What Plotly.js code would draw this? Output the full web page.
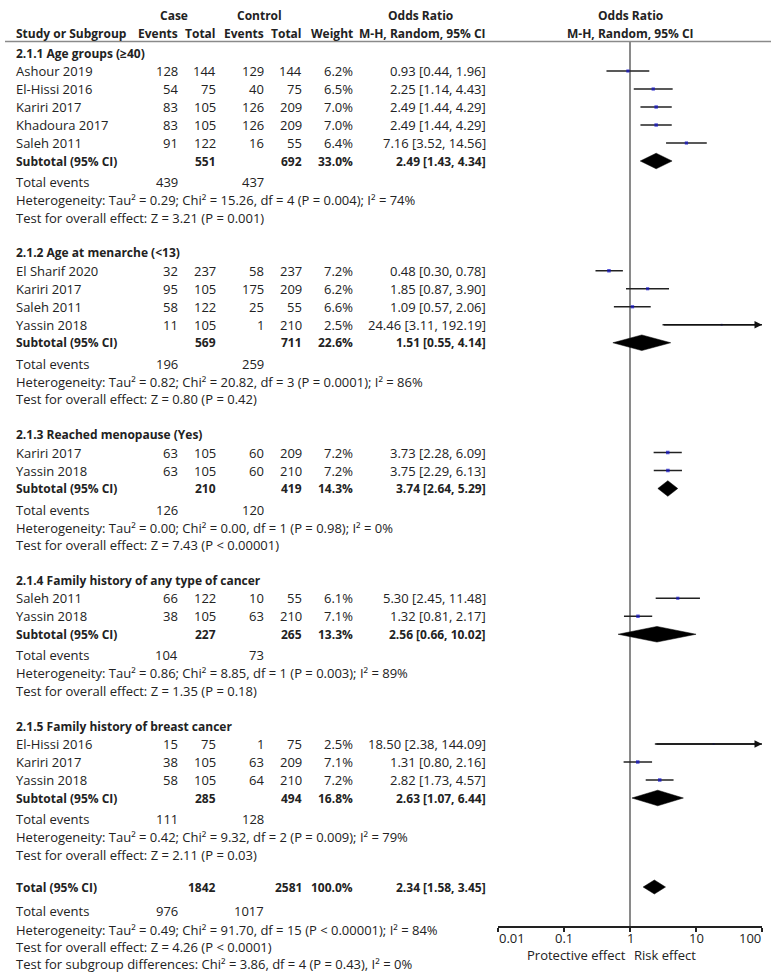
<!DOCTYPE html>
<html><head><meta charset="utf-8">
<script src="https://cdn.plot.ly/plotly-3.0.1.min.js"></script>
<style>body{margin:0;background:#fff}</style>
</head><body><div id="chart" style="width:771px;height:977px"></div>
<script>
// ---------------- DATA ----------------
const groupTitles = ["2.1.1 Age groups (\u226540)", "2.1.2 Age at menarche (<13)", "2.1.3 Reached menopause (Yes)",
  "2.1.4 Family history of any type of cancer", "2.1.5 Family history of breast cancer"];
const studyGroup  = [0,0,0,0,0, 1,1,1,1, 2,2, 3,3, 4,4,4];
const studyNames  = ["Ashour 2019","El-Hissi 2016","Kariri 2017","Khadoura 2017","Saleh 2011",
  "El Sharif 2020","Kariri 2017","Saleh 2011","Yassin 2018",
  "Kariri 2017","Yassin 2018",
  "Saleh 2011","Yassin 2018",
  "El-Hissi 2016","Kariri 2017","Yassin 2018"];
const caseEvents  = [128,54,83,83,91, 32,95,58,11, 63,63, 66,38, 15,38,58];
const caseTotal   = [144,75,105,105,122, 237,105,122,105, 105,105, 122,105, 75,105,105];
const ctrlEvents  = [129,40,126,126,16, 58,175,25,1, 60,60, 10,63, 1,63,64];
const ctrlTotal   = [144,75,209,209,55, 237,209,55,210, 209,210, 55,210, 75,209,210];
const studyWeight = [6.2,6.5,7.0,7.0,6.4, 7.2,6.2,6.6,2.5, 7.2,7.2, 6.1,7.1, 2.5,7.1,7.2];
const studyOR     = [0.93,2.25,2.49,2.49,7.16, 0.48,1.85,1.09,24.46, 3.73,3.75, 5.30,1.32, 18.50,1.31,2.82];
const studyLo     = [0.44,1.14,1.44,1.44,3.52, 0.30,0.87,0.57,3.11, 2.28,2.29, 2.45,0.81, 2.38,0.80,1.73];
const studyHi     = [1.96,4.43,4.29,4.29,14.56, 0.78,3.90,2.06,192.19, 6.09,6.13, 11.48,2.17, 144.09,2.16,4.57];

const subCaseTotal  = [551,569,210,227,285];
const subCtrlTotal  = [692,711,419,265,494];
const subWeight     = [33.0,22.6,14.3,13.3,16.8];
const subOR         = [2.49,1.51,3.74,2.56,2.63];
const subLo         = [1.43,0.55,2.64,0.66,1.07];
const subHi         = [4.34,4.14,5.29,10.02,6.44];
const subCaseEvents = [439,196,126,104,111];
const subCtrlEvents = [437,259,120,73,128];
const hetTau2 = ["0.29","0.82","0.00","0.86","0.42"];
const hetChi2 = ["15.26","20.82","0.00","8.85","9.32"];
const hetDf   = [4,3,1,1,2];
const hetP    = ["= 0.004","= 0.0001","= 0.98","= 0.003","= 0.009"];
const hetI2   = [74,86,0,89,79];
const testZ   = ["3.21","0.80","7.43","1.35","2.11"];
const testP   = ["= 0.001","= 0.42","< 0.00001","= 0.18","= 0.03"];

const totalCaseTotal = 1842, totalCtrlTotal = 2581, totalWeight = 100.0;
const totalOR = 2.34, totalLo = 1.58, totalHi = 3.45;
const totalCaseEvents = 976, totalCtrlEvents = 1017;
const totalTau2 = "0.49", totalChi2 = "91.70", totalDf = 15, totalP = "< 0.00001", totalI2 = 84;
const totalZ = "4.26", totalZP = "< 0.0001";
const subgroupChi2 = "3.86", subgroupDf = 4, subgroupP = "= 0.43", subgroupI2 = 0;

const axisTicks = [0.01, 0.1, 1, 10, 100];
const axisTickText = ["0.01","0.1","1","10","100"];
const nullValue = 1;

// ---------------- LAYOUT ----------------
const W = 771, H = 977;
const FONT = "Open Sans, DejaVu Sans, sans-serif";
const FS = 13, FSB = 12;
const TXT = "#222";
const col = {study:15, ce:179, ct:217, ke:265, kt:303, w:354, or:487};
const axisY = 926, ruleY = 41.5;
const xmin = 0.01, xmax = 100;

// row positions
const studyY = [], headerY = [], subY = [], teY = [], hetY = [], testY = [];
let y = 53;
for (let g = 0; g < groupTitles.length; g++) {
  headerY[g] = y;
  for (let i = 0; i < studyNames.length; i++) if (studyGroup[i] === g) { y += 18; studyY[i] = y; }
  y += 18; subY[g] = y;
  y += 21; teY[g] = y;
  y += 18; hetY[g] = y;
  y += 17.5; testY[g] = y;
  y += 35.25;
}
const totY = testY[testY.length-1] + 32.5;
const totTeY = totY + 24, totHetY = totTeY + 19, totTestY = totHetY + 17, totSubY = totTestY + 17;

const SQ = "\u00b2";
const ann = [];
function txt(s, xpx, ypx, anchor, bold) {
  ann.push({xref:'paper', yref:'y', x: xpx / W, y: ypx, xanchor: anchor, yanchor:'middle',
    text: bold ? '<b>' + s + '</b>' : s, showarrow:false, borderpad:0,
    font:{family:FONT, size: bold ? FSB : FS, color:TXT}});
}
const f2 = v => v.toFixed(2);
const orStr = (e,l,h) => f2(e) + " [" + f2(l) + ", " + f2(h) + "]";
const pct = v => v.toFixed(1) + "%";
const hetStr = (t, c, d, p, i) => "Heterogeneity: Tau" + SQ + " = " + t + "; Chi" + SQ + " = " + c + ", df = " + d +
  " (P " + p + "); I" + SQ + " = " + i + "%";

// headers
txt("Case", 174, 15, 'center', true);
txt("Control", 259, 15, 'center', true);
txt("Odds Ratio", 421, 15, 'center', true);
txt("Study or Subgroup", col.study, 33, 'left', true);
txt("Events", col.ce, 33, 'right', true);
txt("Total", col.ct, 33, 'right', true);
txt("Events", col.ke, 33, 'right', true);
txt("Total", col.kt, 33, 'right', true);
txt("Weight", col.w, 33, 'right', true);
txt("M-H, Random, 95% CI", col.or, 33, 'right', true);
txt("Odds Ratio", 630, 15, 'center', true);
txt("M-H, Random, 95% CI", 630, 33, 'center', true);

for (let g = 0; g < groupTitles.length; g++) {
  txt(groupTitles[g], col.study, headerY[g], 'left', true);
  txt("Subtotal (95% CI)", col.study, subY[g], 'left', true);
  txt(String(subCaseTotal[g]), col.ct, subY[g], 'right', true);
  txt(String(subCtrlTotal[g]), col.kt, subY[g], 'right', true);
  txt(pct(subWeight[g]), col.w, subY[g], 'right', true);
  txt(orStr(subOR[g], subLo[g], subHi[g]), col.or, subY[g], 'right', true);
  txt("Total events", col.study, teY[g], 'left', false);
  txt(String(subCaseEvents[g]), col.ce, teY[g], 'right', false);
  txt(String(subCtrlEvents[g]), col.ke, teY[g], 'right', false);
  txt(hetStr(hetTau2[g], hetChi2[g], hetDf[g], hetP[g], hetI2[g]), col.study, hetY[g], 'left', false);
  txt("Test for overall effect: Z = " + testZ[g] + " (P " + testP[g] + ")", col.study, testY[g], 'left', false);
}
for (let i = 0; i < studyNames.length; i++) {
  txt(studyNames[i], col.study, studyY[i], 'left', false);
  txt(String(caseEvents[i]), col.ce, studyY[i], 'right', false);
  txt(String(caseTotal[i]), col.ct, studyY[i], 'right', false);
  txt(String(ctrlEvents[i]), col.ke, studyY[i], 'right', false);
  txt(String(ctrlTotal[i]), col.kt, studyY[i], 'right', false);
  txt(pct(studyWeight[i]), col.w, studyY[i], 'right', false);
  txt(orStr(studyOR[i], studyLo[i], studyHi[i]), col.or, studyY[i], 'right', false);
}
txt("Total (95% CI)", col.study, totY, 'left', true);
txt(String(totalCaseTotal), col.ct, totY, 'right', true);
txt(String(totalCtrlTotal), col.kt, totY, 'right', true);
txt(pct(totalWeight), col.w, totY, 'right', true);
txt(orStr(totalOR, totalLo, totalHi), col.or, totY, 'right', true);
txt("Total events", col.study, totTeY, 'left', false);
txt(String(totalCaseEvents), col.ce, totTeY, 'right', false);
txt(String(totalCtrlEvents), col.ke, totTeY, 'right', false);
txt(hetStr(totalTau2, totalChi2, totalDf, totalP, totalI2), col.study, totHetY, 'left', false);
txt("Test for overall effect: Z = " + totalZ + " (P " + totalZP + ")", col.study, totTestY, 'left', false);
txt("Test for subgroup differences: Chi" + SQ + " = " + subgroupChi2 + ", df = " + subgroupDf +
    " (P " + subgroupP + "), I" + SQ + " = " + subgroupI2 + "%", col.study, totSubY, 'left', false);

// axis tick labels (end labels kept inside the axis span, as in the reference)
axisTicks.forEach((t, k) => {
  ann.push({xref:'x', yref:'y', x: Math.log10(t), y: 938,
    xanchor: k === 0 ? 'left' : (k === axisTicks.length - 1 ? 'right' : 'center'), yanchor:'middle',
    text: axisTickText[k], showarrow:false, borderpad:0, font:{family:FONT, size:FS, color:TXT}});
});
// axis side labels
ann.push({xref:'x', yref:'y', x: Math.log10(nullValue), y: 955, xanchor:'right', yanchor:'middle', xshift:-3,
  text:"Protective effect", showarrow:false, borderpad:0, font:{family:FONT, size:FS, color:TXT}});
ann.push({xref:'x', yref:'y', x: Math.log10(nullValue), y: 955, xanchor:'left', yanchor:'middle', xshift:3,
  text:"Risk effect", showarrow:false, borderpad:0, font:{family:FONT, size:FS, color:TXT}});

// arrowheads for CIs beyond the axis range
for (let i = 0; i < studyNames.length; i++) {
  if (studyHi[i] > xmax) {
    ann.push({xref:'x', yref:'y', axref:'x', ayref:'y', x: Math.log10(xmax), y: studyY[i],
      ax: Math.log10(studyLo[i]), ay: studyY[i], text:'', showarrow:true,
      arrowhead:2, arrowsize:1, arrowwidth:1.5, arrowcolor:'#111', standoff:0, startstandoff:0});
  }
}

// ---------------- TRACES ----------------
const traces = [];
// null line
traces.push({type:'scatter', mode:'lines', x:[nullValue, nullValue], y:[ruleY, axisY],
  line:{color:'#8a8a8a', width:2}, hoverinfo:'skip', showlegend:false});
// CI lines
const cx = [], cy = [];
for (let i = 0; i < studyNames.length; i++) {
  cx.push(studyLo[i], studyHi[i], null); cy.push(studyY[i], studyY[i], null);
}
traces.push({type:'scatter', mode:'lines', x:cx, y:cy, line:{color:'#222', width:1.5},
  hoverinfo:'skip', showlegend:false});
// point estimates
traces.push({type:'scatter', mode:'markers', x:studyOR, y:studyY,
  marker:{symbol:'square', color:'#1010c8', size:studyWeight.map(w => 1 + w*0.35), line:{width:0}},
  hoverinfo:'skip', showlegend:false});
// diamonds
const dx = [], dy = [];
function diamond(e, l, h, yc, hh) {
  dx.push(l, e, h, e, l, null); dy.push(yc, yc - hh, yc, yc + hh, yc, null);
}
for (let g = 0; g < groupTitles.length; g++) diamond(subOR[g], subLo[g], subHi[g], subY[g], 7.8);
diamond(totalOR, totalLo, totalHi, totY, 7);
traces.push({type:'scatter', mode:'lines', x:dx, y:dy, fill:'toself', fillcolor:'#000',
  line:{color:'#000', width:0.5}, hoverinfo:'skip', showlegend:false});

const layout = {
  width:W, height:H, margin:{l:0, r:0, t:0, b:0},
  paper_bgcolor:'#fff', plot_bgcolor:'rgba(0,0,0,0)', showlegend:false,
  font:{family:FONT, size:FS, color:TXT},
  xaxis:{type:'log', range:[Math.log10(xmin), Math.log10(xmax)], domain:[498/W, 762/W],
    anchor:'free', position:(H - axisY)/H, showline:true, linecolor:'#222', linewidth:1.5,
    ticks:'outside', ticklen:4, tickwidth:1.5, tickcolor:'#222',
    tickvals:axisTicks, ticktext:axisTickText, showticklabels:false,
    showgrid:false, zeroline:false, fixedrange:true},
  yaxis:{range:[H, 0], domain:[0, 1], visible:false, fixedrange:true, showgrid:false, zeroline:false},
  shapes:[{type:'line', xref:'paper', yref:'y', x0:5/W, x1:1, y0:ruleY, y1:ruleY,
    line:{color:'#8a8a8a', width:1.5}}],
  annotations:ann
};
Plotly.newPlot('chart', traces, layout, {displayModeBar:false, staticPlot:true});
</script></body></html>
